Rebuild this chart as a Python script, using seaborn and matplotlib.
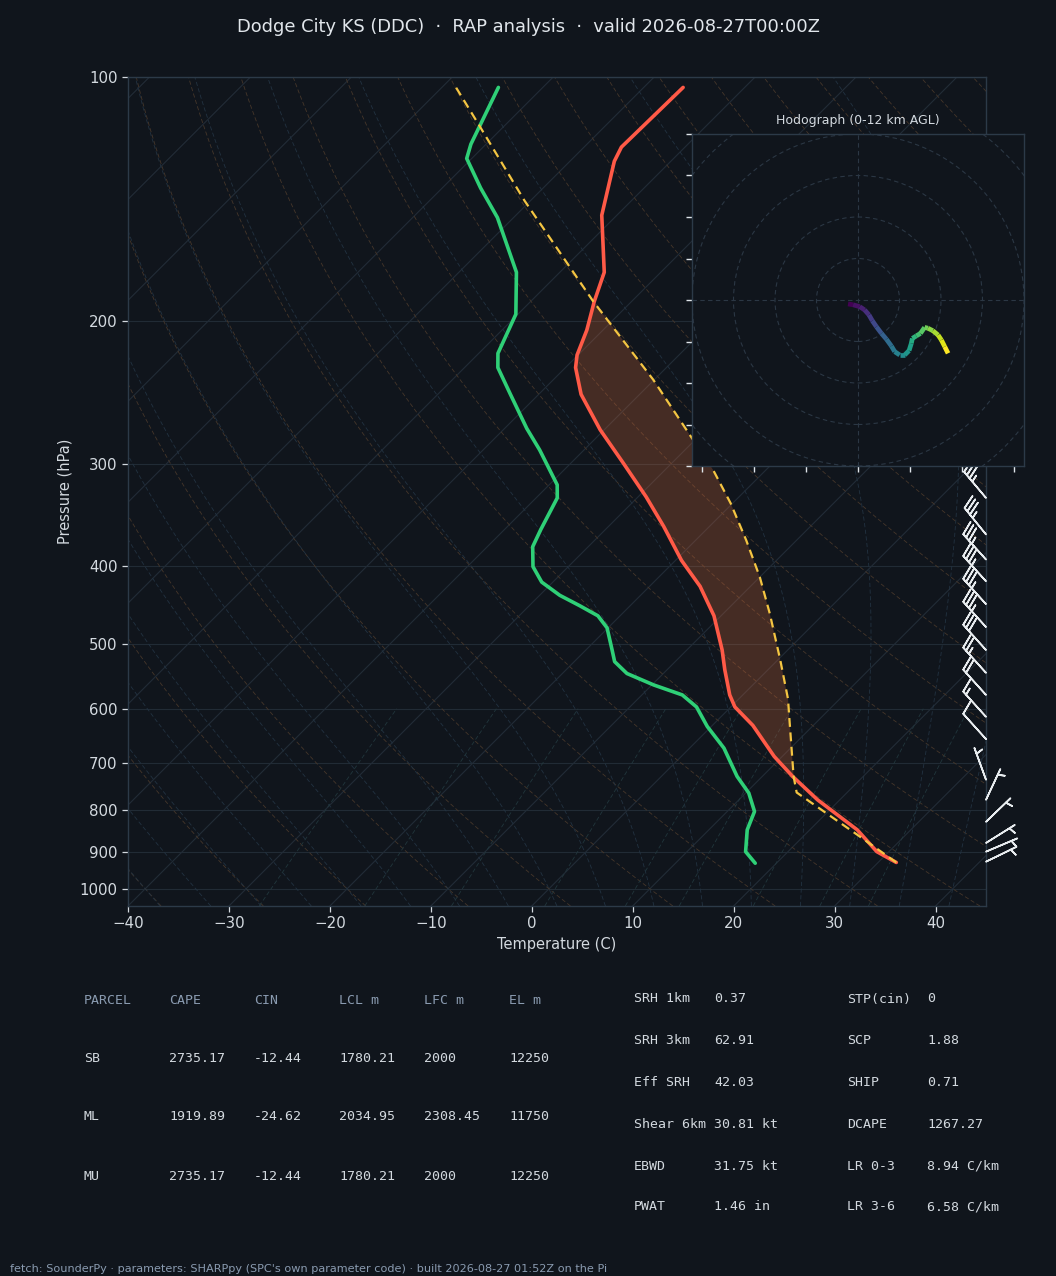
import numpy as np
import matplotlib
matplotlib.use("Agg")
import matplotlib.pyplot as plt
import seaborn as sns
from matplotlib.transforms import Affine2D, blended_transform_factory
from matplotlib.collections import LineCollection
from matplotlib.patches import Circle
from matplotlib.ticker import FixedLocator, NullLocator, FixedFormatter

# sounding values
temp_p = [928, 900, 846, 777, 727, 687, 629, 597, 577, 537, 508, 461, 424, 394, 358, 329,
          299, 272, 246, 228, 220, 205, 189, 174, 148, 127, 122, 103]
temp_c = [31.8, 28.8, 24.7, 17.8, 13.0, 9.2, 4.0, 0.4, -1.3, -4.3, -6.5, -10.7, -15.0, -19.4,
          -24.5, -29.2, -34.8, -40.4, -45.8, -49.0, -50.1, -51.6, -53.7, -55.6, -61.5, -65.6,
          -66.3, -66.1]

dewp_p = [930, 900, 846, 803, 762, 727, 671, 631, 597, 577, 561, 543, 525, 508, 477, 461, 448,
          435, 419, 401, 379, 361, 330, 318, 288, 271, 246, 228, 219, 196, 174, 149, 137, 126,
          121, 103]
dewp_c = [17.9, 15.8, 13.8, 12.7, 10.3, 7.5, 3.4, -0.4, -3.4, -6.0, -9.8, -13.6, -16.0, -17.4,
          -20.1, -22.2, -25.0, -28.0, -31.1, -33.5, -35.5, -36.4, -37.9, -39.2, -44.4, -47.8,
          -52.8, -56.7, -58.1, -60.2, -64.3, -71.6, -76.2, -80.5, -81.5, -84.4]

parcel_p = [928, 858, 761, 727, 608, 584, 522, 458, 413, 372, 335, 305, 277, 236, 189, 142, 115, 103]
parcel_c = [31.8, 25.2, 15.0, 13.1, 6.4, 4.9, 0.2, -5.4, -10.0, -15.0, -20.2, -25.2, -30.8,
            -40.1, -53.8, -70.6, -82.4, -88.6]

# wind barbs (pressure, direction deg, speed kt)
barb_p = [330, 366, 393, 418, 446, 476, 508, 542, 577, 614, 654, 734, 777, 827, 878, 900, 926]
barb_dir = [320, 321, 318, 318, 318, 318, 318, 318, 318, 318, 318, 340, 25, 46, 58, 67, 64]
barb_kt = [35, 35, 35, 35, 35, 35, 30, 25, 20, 15, 10, 5, 5, 5, 5, 5, 5]

# hodograph trace (u, v) 0-12 km
hodo_u = [-4.8, -2.4, 0.8, 3.2, 5.3, 6.9, 8.9, 11.3, 13.7, 16.1, 17.7, 20.1, 22.5, 24.6, 25.7,
          26.2, 28.1, 30.1, 32.1, 33.7, 36.1, 38.6, 40.2, 41.8, 43.4]
hodo_v = [-1.9, -2.3, -3.2, -4.8, -7.2, -10.0, -12.9, -16.1, -18.9, -22.2, -24.9, -26.5, -26.5,
          -24.4, -20.9, -18.5, -17.3, -16.1, -13.2, -13.6, -14.8, -16.9, -19.3, -22.5, -25.7]
hodo_km = [0, 0.5, 1, 1.5, 2, 2.5, 3, 3.5, 4, 4.5, 5, 5.5, 6, 6.5, 7, 7.5, 8, 8.5, 9, 9.5, 10,
           10.5, 11, 11.5, 12]

# parameter tables
parcel_cols = ["PARCEL", "CAPE", "CIN", "LCL m", "LFC m", "EL m"]
parcel_rows = [["SB", "2735.17", "-12.44", "1780.21", "2000", "12250"],
               ["ML", "1919.89", "-24.62", "2034.95", "2308.45", "11750"],
               ["MU", "2735.17", "-12.44", "1780.21", "2000", "12250"]]
kin_names = ["SRH 1km", "SRH 3km", "Eff SRH", "Shear 6km", "EBWD", "PWAT"]
kin_vals = ["0.37", "62.91", "42.03", "30.81 kt", "31.75 kt", "1.46 in"]
comp_names = ["STP(cin)", "SCP", "SHIP", "DCAPE", "LR 0-3", "LR 3-6"]
comp_vals = ["0", "1.88", "0.71", "1267.27", "8.94 C/km", "6.58 C/km"]

title = "Dodge City KS (DDC)  \u00b7  RAP analysis  \u00b7  valid 2026-08-27T00:00Z"
footer = ("fetch: SounderPy \u00b7 parameters: SHARPpy (SPC's own parameter code) \u00b7 "
          "built 2026-08-27 01:52Z on the Pi")

BG = "#10151c"
EDGE = "#2c3a48"
TXT = "#d3d9df"
DIM = "#8a9bb0"

sns.set_theme(style="dark", rc={
    "figure.facecolor": BG, "axes.facecolor": BG, "axes.edgecolor": EDGE,
    "text.color": TXT, "axes.labelcolor": TXT, "xtick.color": TXT, "ytick.color": TXT,
    "xtick.bottom": True, "ytick.left": True, "axes.linewidth": 1.0,
})
plt.rcParams["font.family"] = ["DejaVu Sans"]

W, H = 1056, 1276
fig = plt.figure(figsize=(W / 100, H / 100), dpi=100)


def fx(x):
    return x / W


def fy(y):
    return 1 - y / H


ax = fig.add_axes([fx(128), fy(906), fx(858), 829 / H])
ax.set_yscale("log")
ax.set_xlim(-40, 45)
ax.set_ylim(1050, 100)

# skew in axes coordinates so isotherms run at 45 degrees
k = 829 / 858
skew = ax.transData + ax.transAxes.inverted() + Affine2D().skew(np.arctan(k), 0) + ax.transAxes

# isotherms
p_line = np.array([1050, 100])
for t in range(-150, 50, 10):
    ax.plot([t, t], p_line, color="#222c37", lw=0.8, transform=skew, zorder=1)

# dry adiabats
p_fine = np.geomspace(1050, 100, 120)
for th in range(-40, 201, 10):
    tt = (th + 273.15) * (p_fine / 1000) ** 0.2857 - 273.15
    ax.plot(tt, p_fine, color="#45362a", lw=0.6, ls=(0, (5, 3)), transform=skew, zorder=1)


# moist adiabats
def dtdlnp(T, p):
    tc = T - 273.15
    es = 6.112 * np.exp(17.67 * tc / (tc + 243.5))
    rs = 0.622 * es / (p - es)
    return (287.04 * T + 2.501e6 * rs) / (1005.7 + 2.501e6 ** 2 * rs * 0.622 / (287.04 * T * T))


def integrate(t0, levels):
    T = t0 + 273.15
    out = [T.copy()]
    for p1, p2 in zip(levels[:-1], levels[1:]):
        h = np.log(p2) - np.log(p1)
        pm = np.exp(np.log(p1) + h / 2)
        k1 = dtdlnp(T, p1)
        k2 = dtdlnp(T + h * k1 / 2, pm)
        k3 = dtdlnp(T + h * k2 / 2, pm)
        k4 = dtdlnp(T + h * k3, p2)
        T = T + h * (k1 + 2 * k2 + 2 * k3 + k4) / 6
        out.append(T.copy())
    return np.array(out) - 273.15


moist_t0 = np.arange(-40, 46, 5).astype(float)
p_up = np.geomspace(1000, 100, 150)
p_dn = np.geomspace(1000, 1050, 6)
up = integrate(moist_t0, p_up)
dn = integrate(moist_t0, p_dn)
for i in range(len(moist_t0)):
    tt = np.concatenate([dn[::-1, i], up[1:, i]])
    pp = np.concatenate([p_dn[::-1], p_up[1:]])
    ax.plot(tt, pp, color="#223241", lw=0.6, ls=(0, (5, 3)), transform=skew, zorder=1)

# mixing ratio lines
p_mix = np.geomspace(1050, 600, 30)
for w in [0.0004, 0.001, 0.002, 0.004, 0.007, 0.01, 0.016, 0.024, 0.032]:
    e = w * p_mix / (0.622 + w)
    le = np.log(e / 6.112)
    td = 243.5 * le / (17.67 - le)
    ax.plot(td, p_mix, color="#21363c", lw=0.6, ls=(0, (5, 3)), transform=skew, zorder=1)

# CAPE shading between parcel and environment
p_grid = np.geomspace(928, 103, 500)
env_g = np.interp(np.log(p_grid)[::-1], np.log(temp_p)[::-1], np.array(temp_c)[::-1])[::-1]
par_g = np.interp(np.log(p_grid)[::-1], np.log(parcel_p)[::-1], np.array(parcel_c)[::-1])[::-1]
ax.fill_betweenx(p_grid, env_g, par_g, where=par_g > env_g, interpolate=True,
                 color="#d2693c", alpha=0.28, lw=0, transform=skew, zorder=2)

# profiles
sns.lineplot(x=temp_c, y=temp_p, ax=ax, sort=False, estimator=None, color="#ff5a47",
             lw=2.6, transform=skew, zorder=4, legend=False)
sns.lineplot(x=dewp_c, y=dewp_p, ax=ax, sort=False, estimator=None, color="#2fd077",
             lw=2.6, transform=skew, zorder=4, legend=False)
ax.plot(parcel_c, parcel_p, color="#f4c542", lw=1.6, ls=(0, (4, 2.5)), transform=skew, zorder=5)

ax.set_xlim(-40, 45)
ax.set_ylim(1050, 100)
ax.yaxis.set_major_locator(FixedLocator([100, 200, 300, 400, 500, 600, 700, 800, 900, 1000]))
ax.yaxis.set_major_formatter(FixedFormatter(["100", "200", "300", "400", "500", "600", "700",
                                             "800", "900", "1000"]))
ax.yaxis.set_minor_locator(NullLocator())
ax.set_xticks(range(-40, 41, 10))
ax.grid(False)
ax.yaxis.grid(True, color="#212b35", lw=0.8, zorder=0)
ax.tick_params(labelsize=10.8, length=4, width=0.9, colors=TXT)
for s in ax.spines.values():
    s.set_color(EDGE)
ax.set_xlabel("Temperature (C)", fontsize=10.5, labelpad=4)
ax.set_ylabel("Pressure (hPa)", fontsize=10.5, labelpad=5)

# wind barbs on the right edge
wd = np.deg2rad(barb_dir)
bu = -np.array(barb_kt) * np.sin(wd)
bv = -np.array(barb_kt) * np.cos(wd)
btr = blended_transform_factory(ax.transAxes, ax.transData)
ax.barbs(np.ones(len(barb_p)), barb_p, bu, bv, transform=btr, length=7, color="#e8ecef",
         lw=1.2, clip_on=False, zorder=6)

# hodograph inset
hx = fig.add_axes([fx(692), fy(466), fx(332), 332 / H])
hx.set_facecolor(BG)
hx.set_xlim(-80, 80)
hx.set_ylim(-80, 80)
for r in range(20, 121, 20):
    hx.add_patch(Circle((0, 0), r, fill=False, ec="#2b3744", lw=0.8, ls=(0, (4, 3))))
hx.axhline(0, color="#2b3744", lw=0.8, ls=(0, (4, 3)))
hx.axvline(0, color="#2b3744", lw=0.8, ls=(0, (4, 3)))
pts = np.column_stack([hodo_u, hodo_v]).reshape(-1, 1, 2)
segs = np.concatenate([pts[:-1], pts[1:]], axis=1)
lc = LineCollection(segs, cmap="viridis", lw=3.4, capstyle="butt")
lc.set_array(np.array(hodo_km[:-1]))
hx.add_collection(lc)
hx.set_xticks(range(-75, 76, 25))
hx.set_yticks(range(-80, 81, 20))
hx.tick_params(labelbottom=False, labelleft=False, length=4, width=1, colors="#dfe5ea")
hx.grid(False)
for s in hx.spines.values():
    s.set_color(EDGE)
hx.set_title("Hodograph (0-12 km AGL)", fontsize=9, color=TXT, pad=7)

# title and footer
fig.text(0.5, fy(27), title, ha="center", va="center", fontsize=12.9, color="#e1e6eb")
fig.text(fx(10), fy(1269), footer, ha="left", va="center", fontsize=8.1, color=DIM)

# parcel table
mono = "DejaVu Sans Mono"
col_x = [84, 169, 254, 339, 424, 509]
row_y = [1058, 1117, 1176]
for cx, name in zip(col_x, parcel_cols):
    fig.text(fx(cx), fy(1000), name, family=mono, fontsize=9.5, color=DIM, va="center")
for ry, row in zip(row_y, parcel_rows):
    for cx, val in zip(col_x, row):
        fig.text(fx(cx), fy(ry), val, family=mono, fontsize=9.5, color=TXT, va="center")

# kinematic / composite table
krow_y = [999, 1041, 1083, 1124, 1166, 1207]
for ry, n1, v1, n2, v2 in zip(krow_y, kin_names, kin_vals, comp_names, comp_vals):
    fig.text(fx(634), fy(ry), n1, family=mono, fontsize=9.5, color=TXT, va="center")
    fig.text(fx(714), fy(ry), v1, family=mono, fontsize=9.5, color=TXT, va="center")
    fig.text(fx(847), fy(ry), n2, family=mono, fontsize=9.5, color=TXT, va="center")
    fig.text(fx(927), fy(ry), v2, family=mono, fontsize=9.5, color=TXT, va="center")

fig.savefig("out.png", dpi=100, facecolor=BG)
